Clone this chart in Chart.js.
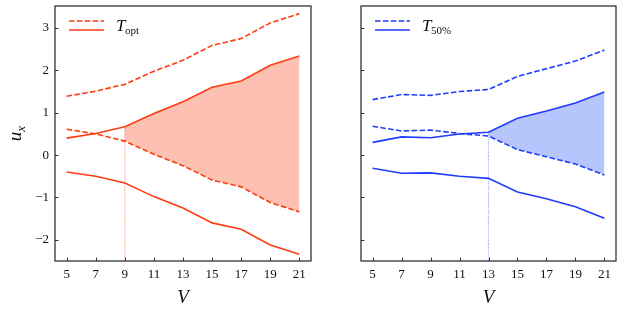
<!DOCTYPE html>
<html>
<head>
<meta charset="utf-8">
<script src="https://cdn.jsdelivr.net/npm/chart.js@4"></script>
<style>
  html, body { margin: 0; padding: 0; background: #ffffff; }
  #wrap { position: relative; width: 623px; height: 312px; }
  .panel { position: absolute; top: 0; height: 312px; }
  #left-panel { left: 0; width: 316px; }
  #right-panel { left: 316px; width: 307px; }
</style>
</head>
<body>
<div id="wrap">
  <div class="panel" id="left-panel"><canvas id="leftChart"></canvas></div>
  <div class="panel" id="right-panel"><canvas id="rightChart"></canvas></div>
</div>
<script>
//#region data
const V = [5, 7, 9, 11, 13, 15, 17, 19, 21];
const xTicks = [5, 7, 9, 11, 13, 15, 17, 19, 21];
const yTicks = [-2, -1, 0, 1, 2, 3];

// T_opt (left panel)
const optUpperDashed = [1.39, 1.51, 1.67, 1.98, 2.24, 2.59, 2.75, 3.12, 3.34];
const optUpperSolid = [0.40, 0.51, 0.67, 0.98, 1.26, 1.60, 1.75, 2.12, 2.34];
const optLowerDashed = [0.61, 0.50, 0.33, 0.02, -0.25, -0.59, -0.75, -1.12, -1.34];
const optLowerSolid = [-0.40, -0.50, -0.66, -0.98, -1.25, -1.60, -1.75, -2.12, -2.34];
const optCut = 9;

// T_50% (right panel)
const halfUpperDashed = [1.31, 1.43, 1.41, 1.50, 1.55, 1.86, 2.04, 2.22, 2.48];
const halfUpperSolid = [0.30, 0.43, 0.41, 0.50, 0.54, 0.87, 1.04, 1.23, 1.49];
const halfLowerDashed = [0.68, 0.57, 0.59, 0.51, 0.45, 0.13, -0.04, -0.21, -0.47];
const halfLowerSolid = [-0.31, -0.43, -0.42, -0.50, -0.55, -0.87, -1.03, -1.22, -1.49];
const halfCut = 13;
//#endregion

const X_MIN = 4.2;
const X_MAX = 21.8;
const Y_MIN = -2.5;
const Y_MAX = 3.52;

const SERIF = "'Liberation Serif', 'DejaVu Serif', serif";
const DASH = [5.5, 2.4];

// turn a series into {x, y} points, optionally only from a given V onward
function toPoints(values, from = -Infinity) {
  const pts = [];
  for (let i = 0; i < V.length; i++) {
    if (V[i] >= from) pts.push({ x: V[i], y: values[i] });
  }
  return pts;
}

function lineSet(values, color, dashed) {
  return {
    data: toPoints(values),
    borderColor: color,
    borderWidth: 1.6,
    borderDash: dashed ? DASH : [],
    pointRadius: 0,
    fill: false,
    tension: 0,
    order: 1,
  };
}

function buildDatasets(p) {
  // index of the V where the shaded area starts
  const cutIdx = V.indexOf(p.cut);
  return [
    // shaded band between the solid upper line and the dashed lower line
    {
      data: toPoints(p.upperSolid, p.cut),
      borderWidth: 0,
      pointRadius: 0,
      backgroundColor: p.fillColor,
      fill: "+1",
      tension: 0,
      order: 3,
    },
    {
      data: toPoints(p.lowerDashed, p.cut),
      borderWidth: 0,
      pointRadius: 0,
      fill: false,
      tension: 0,
      order: 3,
    },
    // dotted marker from the bottom up to the solid line
    {
      data: [
        { x: p.cut, y: Y_MIN },
        { x: p.cut, y: p.upperSolid[cutIdx] },
      ],
      borderColor: p.dotColor,
      borderWidth: 1.2,
      borderDash: [1, 1.2],
      pointRadius: 0,
      fill: false,
      order: 2,
    },
    lineSet(p.upperDashed, p.color, true),
    lineSet(p.upperSolid, p.color, false),
    lineSet(p.lowerDashed, p.color, true),
    lineSet(p.lowerSolid, p.color, false),
  ];
}

// frame, inward ticks, legend and axis titles
const decorPlugin = {
  id: "decor",
  afterDraw(chart, args, opts) {
    const ctx = chart.ctx;
    const area = chart.chartArea;
    const xs = chart.scales.x;
    const ys = chart.scales.y;
    ctx.save();

    // inward tick marks on left and bottom
    ctx.strokeStyle = "#222";
    ctx.lineWidth = 0.9;
    ctx.beginPath();
    xTicks.forEach((v) => {
      const px = Math.round(xs.getPixelForValue(v)) + 0.5;
      ctx.moveTo(px, area.bottom);
      ctx.lineTo(px, area.bottom - 3.5);
    });
    yTicks.forEach((v) => {
      const py = Math.round(ys.getPixelForValue(v)) + 0.5;
      ctx.moveTo(area.left, py);
      ctx.lineTo(area.left + 3.5, py);
    });
    ctx.stroke();

    // box frame
    ctx.lineWidth = 1.2;
    ctx.strokeRect(area.left, area.top, area.right - area.left, area.bottom - area.top);

    // legend
    const lx = area.left + 14;
    ctx.strokeStyle = opts.color;
    ctx.lineWidth = 1.6;
    ctx.setLineDash(DASH);
    ctx.beginPath();
    ctx.moveTo(lx, area.top + 15);
    ctx.lineTo(lx + 35, area.top + 15);
    ctx.stroke();
    ctx.setLineDash([]);
    ctx.beginPath();
    ctx.moveTo(lx, area.top + 24);
    ctx.lineTo(lx + 35, area.top + 24);
    ctx.stroke();

    ctx.fillStyle = "#111";
    ctx.textBaseline = "alphabetic";
    ctx.textAlign = "left";
    ctx.font = "italic 17px " + SERIF;
    const tx = lx + 47;
    const ty = area.top + 25;
    ctx.fillText("T", tx, ty);
    const tw = ctx.measureText("T").width;
    ctx.font = "11px " + SERIF;
    ctx.fillText(opts.sub, tx + tw - 0.5, ty + 3);

    // x axis title
    ctx.font = "italic 19px " + SERIF;
    ctx.textAlign = "center";
    ctx.fillText("V", (area.left + area.right) / 2, 303);

    // y axis title (left panel only)
    if (opts.yTitle) {
      ctx.translate(21, (area.top + area.bottom) / 2);
      ctx.rotate(-Math.PI / 2);
      ctx.font = "italic 19px " + SERIF;
      ctx.textAlign = "left";
      const uw = ctx.measureText("u").width;
      ctx.fillText("u", -uw / 2 - 3, 0);
      ctx.font = "italic 13px " + SERIF;
      ctx.fillText("x", uw / 2 - 3, 4);
    }
    ctx.restore();
  },
};

function fmt(v) {
  return v < 0 ? "\u2212" + Math.abs(v) : String(v);
}

// keep the axes from reserving room for overflowing labels
function noPadding(scale) {
  scale.paddingTop = 0;
  scale.paddingBottom = 0;
  scale.paddingLeft = 0;
  scale.paddingRight = 0;
}

function makeChart(canvasId, p) {
  const ctx = document.getElementById(canvasId).getContext("2d");
  return new Chart(ctx, {
    type: "line",
    data: { datasets: buildDatasets(p) },
    plugins: [decorPlugin],
    options: {
      responsive: true,
      maintainAspectRatio: false,
      animation: false,
      layout: { padding: { top: 6, right: p.padRight, left: 0, bottom: 0 } },
      plugins: {
        legend: { display: false },
        tooltip: { enabled: false },
        decor: { color: p.color, sub: p.sub, yTitle: p.showY },
      },
      scales: {
        x: {
          type: "linear",
          min: X_MIN,
          max: X_MAX,
          grid: { display: false, drawTicks: false },
          border: { display: false },
          afterBuildTicks: (scale) => {
            scale.ticks = xTicks.map((v) => ({ value: v }));
          },
          afterFit: (scale) => {
            scale.height = 51;
            noPadding(scale);
          },
          ticks: {
            padding: 6,
            color: "#111",
            font: { family: SERIF, size: 13 },
            maxRotation: 0,
            autoSkip: false,
            callback: (v) => fmt(v),
          },
        },
        y: {
          type: "linear",
          min: Y_MIN,
          max: Y_MAX,
          grid: { display: false, drawTicks: false },
          border: { display: false },
          afterBuildTicks: (scale) => {
            scale.ticks = yTicks.map((v) => ({ value: v }));
          },
          afterFit: (scale) => {
            scale.width = p.axisWidth;
            noPadding(scale);
          },
          ticks: {
            display: p.showY,
            padding: 6,
            color: "#111",
            font: { family: SERIF, size: 13 },
            callback: (v) => fmt(v),
          },
        },
      },
    },
  });
}

makeChart("leftChart", {
  upperDashed: optUpperDashed,
  upperSolid: optUpperSolid,
  lowerDashed: optLowerDashed,
  lowerSolid: optLowerSolid,
  cut: optCut,
  color: "#ff3b12",
  dotColor: "rgba(255, 80, 50, 0.6)",
  fillColor: "rgba(251, 130, 100, 0.5)",
  sub: "opt",
  showY: true,
  axisWidth: 55,
  padRight: 5,
});

makeChart("rightChart", {
  upperDashed: halfUpperDashed,
  upperSolid: halfUpperSolid,
  lowerDashed: halfLowerDashed,
  lowerSolid: halfLowerSolid,
  cut: halfCut,
  color: "#1f3cff",
  dotColor: "rgba(60, 90, 255, 0.6)",
  fillColor: "rgba(110, 140, 248, 0.5)",
  sub: "50%",
  showY: false,
  axisWidth: 45,
  padRight: 7,
});
</script>
</body>
</html>
